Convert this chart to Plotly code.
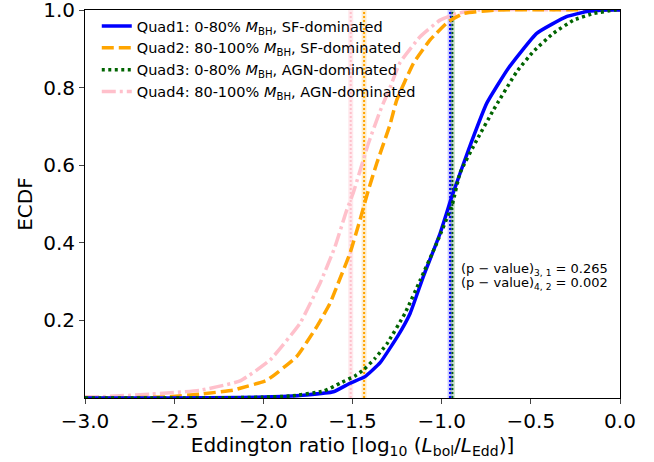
import plotly.graph_objects as go

# ECDF curves of the Eddington ratio, one per quadrant
quad1_x = [-3.0, -2.5, -2.13, -1.95, -1.757, -1.607, -1.514, -1.43, -1.345, -1.243,
           -1.177, -1.103, -1.009, -0.943, -0.85, -0.747, -0.626, -0.467, -0.30, -0.186, -0.074, 0.0]
quad1_y = [0.0, 0.0, 0.001, 0.003, 0.008, 0.016, 0.038, 0.055, 0.091, 0.162,
           0.218, 0.313, 0.424, 0.519, 0.639, 0.76, 0.85, 0.94, 0.983, 0.996, 1.0, 1.0]

quad2_x = [-3.0, -2.7, -2.54, -2.355, -2.17, -2.13, -1.98, -1.813, -1.70, -1.626, -1.57,
           -1.514, -1.458, -1.411, -1.364, -1.29, -1.252, -1.159, -1.065, -0.962, -0.878, -0.70, 0.0]
quad2_y = [0.0, 0.001, 0.003, 0.01, 0.02, 0.025, 0.046, 0.107, 0.184, 0.244, 0.308,
           0.373, 0.459, 0.536, 0.605, 0.704, 0.768, 0.862, 0.923, 0.97, 0.991, 1.0, 1.0]

quad3_x = [-3.0, -2.3, -2.0, -1.85, -1.66, -1.57, -1.486, -1.44, -1.374, -1.308, -1.205,
           -1.12, -1.028, -0.94, -0.897, -0.803, -0.71, -0.579, -0.486, -0.374, -0.26, -0.149, -0.03, 0.0]
quad3_y = [0.0, 0.0, 0.002, 0.005, 0.018, 0.038, 0.057, 0.072, 0.102, 0.139, 0.219,
           0.304, 0.399, 0.5, 0.58, 0.665, 0.742, 0.841, 0.893, 0.94, 0.974, 0.991, 1.0, 1.0]

quad4_x = [-3.0, -2.916, -2.635, -2.355, -2.13, -1.962, -1.794, -1.682, -1.598, -1.532, -1.495,
           -1.411, -1.345, -1.29, -1.233, -1.121, -1.009, -0.915, -0.80, 0.0]
quad4_y = [0.003, 0.003, 0.01, 0.02, 0.044, 0.098, 0.193, 0.296, 0.39, 0.485, 0.53,
           0.656, 0.74, 0.80, 0.865, 0.931, 0.974, 0.991, 1.0, 1.0]

# medians of each distribution
medians = {"quad1": -0.953, "quad2": -1.435, "quad3": -0.94, "quad4": -1.51}

# KS-test p-values
p_31 = 0.265
p_42 = 0.002

names = [
    "Quad1: 0-80% <i>M</i><sub>BH</sub>, SF-dominated",
    "Quad2: 80-100% <i>M</i><sub>BH</sub>, SF-dominated",
    "Quad3: 0-80% <i>M</i><sub>BH</sub>, AGN-dominated",
    "Quad4: 80-100% <i>M</i><sub>BH</sub>, AGN-dominated",
]
keys = ["quad1", "quad2", "quad3", "quad4"]
colors = ["#0000ff", "#ffa500", "#006400", "#ffc0cb"]
band_colors = ["rgba(0,0,255,0.2)", "rgba(255,165,0,0.2)", "rgba(0,100,0,0.2)", "rgba(255,192,203,0.35)"]
dashes = ["solid", "12px,5px", "3px,3.5px", "14px,4px,3px,4px"]

fig = go.Figure()

# median markers: translucent band plus dotted line
for i in [3, 1, 2, 0]:
    m = medians[keys[i]]
    fig.add_trace(go.Scatter(x=[m, m], y=[0, 1], mode="lines", showlegend=False,
                             hoverinfo="skip",
                             line=dict(color=band_colors[i], width=5)))
    fig.add_trace(go.Scatter(x=[m, m], y=[0, 1], mode="lines", showlegend=False,
                             hoverinfo="skip",
                             line=dict(color=colors[i], width=2, dash="2px,2px")))

series = [(quad1_x, quad1_y), (quad2_x, quad2_y), (quad3_x, quad3_y), (quad4_x, quad4_y)]
for i in [3, 1, 0, 2]:
    xs, ys = series[i]
    fig.add_trace(go.Scatter(x=xs, y=ys, mode="lines", name=names[i],
                             legendrank=i + 1,
                             line=dict(color=colors[i], width=3.5, dash=dashes[i],
                                       shape="spline", smoothing=0.4)))

fig.add_annotation(x=-0.905, y=0.332, xref="x", yref="y", xanchor="left", yanchor="middle",
                   text="(p − value)<sub>3, 1</sub> = %.3f" % p_31, showarrow=False,
                   font=dict(size=13, color="black"))
fig.add_annotation(x=-0.905, y=0.294, xref="x", yref="y", xanchor="left", yanchor="middle",
                   text="(p − value)<sub>4, 2</sub> = %.3f" % p_42, showarrow=False,
                   font=dict(size=13, color="black"))

fig.update_layout(
    width=654, height=462,
    margin=dict(l=85, r=34, t=10, b=64),
    paper_bgcolor="white", plot_bgcolor="white",
    font=dict(family="DejaVu Sans", color="black"),
    legend=dict(x=0.022, y=1.0, xanchor="left", yanchor="top",
                bgcolor="rgba(0,0,0,0)", font=dict(size=14.5),
                tracegroupgap=0, itemwidth=30),
    showlegend=True,
)
fig.update_xaxes(range=[-3, 0], tickvals=[-3, -2.5, -2, -1.5, -1, -0.5, 0],
                 tickformat=".1f", ticks="outside", ticklen=5, tickwidth=1,
                 ticklabeloverflow="allow", automargin=False,
                 showline=True, linecolor="black", linewidth=1, mirror=True,
                 showgrid=False, zeroline=False, tickfont=dict(size=20),
                 title=dict(text="Eddington ratio [log<sub>10</sub> (<i>L</i><sub>bol</sub>/<i>L</i><sub>Edd</sub>)]",
                            font=dict(size=20), standoff=1))
fig.update_yaxes(range=[0, 1.0001], tickvals=[0.2, 0.4, 0.6, 0.8, 1.0],
                 tickformat=".1f", ticks="outside", ticklen=5, tickwidth=1,
                 ticklabeloverflow="allow", automargin=False,
                 showline=True, linecolor="black", linewidth=1, mirror=True,
                 showgrid=False, zeroline=False, tickfont=dict(size=20),
                 title=dict(text="ECDF", font=dict(size=20), standoff=5))

fig.write_html("out.html")
